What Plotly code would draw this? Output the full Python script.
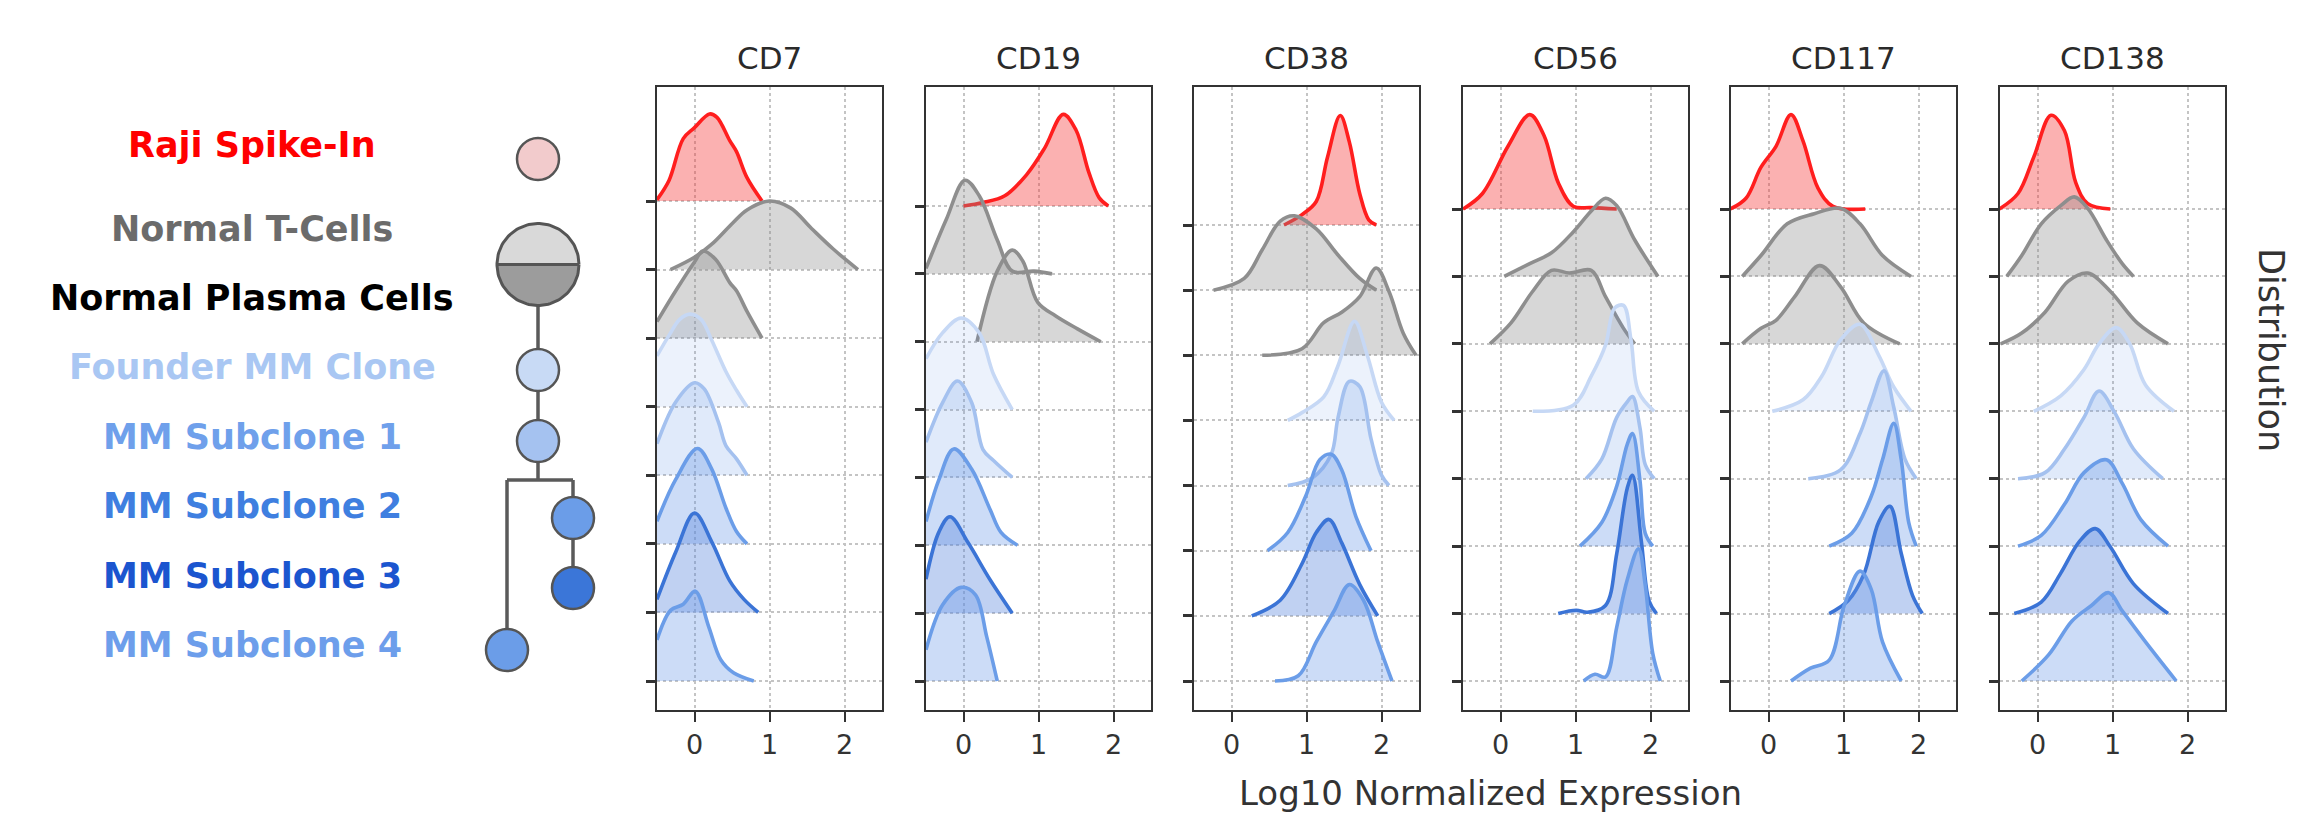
import numpy as np
import plotly.graph_objects as go

# ---------------- data ----------------
groups = ["Raji Spike-In", "Normal T-Cells", "Normal Plasma Cells", "Founder MM Clone",
          "MM Subclone 1", "MM Subclone 2", "MM Subclone 3", "MM Subclone 4"]
markers = ["CD7", "CD19", "CD38", "CD56", "CD117", "CD138"]
x_tick_vals = [0, 1, 2]
x_tick_text = ["0", "1", "2"]
x_label = "Log10 Normalized Expression"
y_label = "Distribution"

# density curves: (log10 expression, density height in row units)
cd7 = {
    "Raji Spike-In": ([-0.5, -0.34, -0.15, 0.0, 0.2, 0.3, 0.47, 0.56, 0.7, 0.9],
                      [0.02, 0.3, 0.91, 1.07, 1.27, 1.22, 0.88, 0.72, 0.34, 0.0]),
    "Normal T-Cells": ([-0.32, 0.0, 0.23, 0.51, 0.7, 1.0, 1.28, 1.56, 1.85, 2.18],
                       [0.0, 0.18, 0.37, 0.68, 0.87, 1.0, 0.9, 0.6, 0.3, 0.0]),
    "Normal Plasma Cells": ([-0.5, -0.25, 0.0, 0.11, 0.28, 0.47, 0.56, 0.7, 0.9],
                            [0.24, 0.69, 1.11, 1.27, 1.15, 0.81, 0.69, 0.39, 0.0]),
    "Founder MM Clone": ([-0.5, -0.34, -0.2, -0.06, 0.09, 0.23, 0.42, 0.56, 0.7],
                         [0.74, 1.04, 1.27, 1.35, 1.27, 0.97, 0.51, 0.24, 0.0]),
    "MM Subclone 1": ([-0.5, -0.25, 0.0, 0.13, 0.32, 0.42, 0.56, 0.7],
                      [0.46, 1.07, 1.35, 1.26, 0.77, 0.43, 0.24, 0.0]),
    "MM Subclone 2": ([-0.5, -0.25, 0.04, 0.23, 0.42, 0.56, 0.7],
                      [0.33, 0.94, 1.39, 1.09, 0.52, 0.18, 0.0]),
    "MM Subclone 3": ([-0.5, -0.25, 0.0, 0.23, 0.47, 0.66, 0.85],
                      [0.19, 0.88, 1.45, 1.03, 0.46, 0.19, 0.0]),
    "MM Subclone 4": ([-0.5, -0.32, -0.15, 0.01, 0.19, 0.35, 0.52, 0.79],
                      [0.6, 1.03, 1.12, 1.31, 0.79, 0.31, 0.12, 0.0]),
}
cd19 = {
    "Raji Spike-In": ([0.0, 0.26, 0.55, 0.84, 1.08, 1.33, 1.5, 1.67, 1.81, 1.93],
                      [0.0, 0.05, 0.15, 0.46, 0.85, 1.35, 1.12, 0.5, 0.12, 0.0]),
    "Normal T-Cells": ([-0.5, -0.23, 0.02, 0.21, 0.45, 0.65, 0.94, 1.18],
                       [0.08, 0.8, 1.38, 1.15, 0.5, 0.04, 0.04, 0.0]),
    "Normal Plasma Cells": ([0.18, 0.45, 0.65, 0.79, 0.99, 1.23, 1.52, 1.83],
                            [0.0, 1.04, 1.35, 1.19, 0.58, 0.38, 0.19, 0.0]),
    "Founder MM Clone": ([-0.5, -0.28, -0.03, 0.21, 0.4, 0.65],
                         [0.75, 1.13, 1.35, 1.13, 0.52, 0.0]),
    "MM Subclone 1": ([-0.5, -0.28, -0.08, 0.11, 0.26, 0.4, 0.65],
                      [0.52, 1.1, 1.42, 1.1, 0.41, 0.25, 0.0]),
    "MM Subclone 2": ([-0.5, -0.33, -0.13, 0.11, 0.35, 0.5, 0.72],
                      [0.35, 0.96, 1.42, 1.12, 0.54, 0.19, 0.0]),
    "MM Subclone 3": ([-0.5, -0.33, -0.18, 0.06, 0.35, 0.65],
                      [0.5, 1.19, 1.42, 1.04, 0.5, 0.0]),
    "MM Subclone 4": ([-0.5, -0.28, -0.03, 0.16, 0.31, 0.45],
                      [0.46, 1.12, 1.38, 1.27, 0.65, 0.0]),
}
cd38 = {
    "Raji Spike-In": ([0.7, 0.94, 1.13, 1.28, 1.45, 1.57, 1.71, 1.83, 1.93],
                      [0.0, 0.16, 0.36, 1.04, 1.68, 1.28, 0.48, 0.08, 0.0]),
    "Normal T-Cells": ([-0.24, 0.17, 0.41, 0.65, 0.84, 1.13, 1.42, 1.71, 1.93],
                       [0.0, 0.18, 0.62, 1.06, 1.14, 0.94, 0.54, 0.18, 0.0]),
    "Normal Plasma Cells": ([0.41, 0.94, 1.23, 1.47, 1.71, 1.93, 2.1, 2.29, 2.46],
                            [0.0, 0.1, 0.5, 0.66, 0.9, 1.34, 0.98, 0.34, 0.0]),
    "Founder MM Clone": ([0.75, 0.94, 1.23, 1.42, 1.64, 1.81, 2.0, 2.17],
                         [0.0, 0.12, 0.36, 0.84, 1.52, 1.0, 0.28, 0.0]),
    "MM Subclone 1": ([0.75, 1.08, 1.33, 1.42, 1.57, 1.71, 1.86, 2.0, 2.1],
                      [0.0, 0.12, 0.48, 1.04, 1.6, 1.52, 0.72, 0.16, 0.0]),
    "MM Subclone 2": ([0.48, 0.75, 0.99, 1.18, 1.33, 1.47, 1.66, 1.86],
                      [0.0, 0.28, 0.84, 1.4, 1.48, 1.24, 0.52, 0.0]),
    "MM Subclone 3": ([0.27, 0.65, 0.94, 1.13, 1.3, 1.47, 1.71, 1.95],
                      [0.0, 0.24, 0.8, 1.28, 1.48, 1.12, 0.48, 0.0]),
    "MM Subclone 4": ([0.58, 0.89, 1.13, 1.37, 1.57, 1.76, 1.95, 2.14],
                      [0.0, 0.08, 0.6, 1.08, 1.48, 1.24, 0.6, 0.0]),
}
cd56 = {
    "Raji Spike-In": ([-0.5, -0.24, 0.1, 0.39, 0.58, 0.77, 0.97, 1.21, 1.55],
                      [0.0, 0.23, 0.93, 1.4, 1.09, 0.39, 0.04, 0.02, 0.0]),
    "Normal T-Cells": ([0.05, 0.39, 0.68, 0.97, 1.21, 1.4, 1.55, 1.79, 2.1],
                       [0.0, 0.19, 0.35, 0.66, 0.97, 1.16, 1.05, 0.54, 0.0]),
    "Normal Plasma Cells": ([-0.14, 0.14, 0.43, 0.68, 0.92, 1.21, 1.4, 1.64, 1.79],
                            [0.0, 0.31, 0.78, 1.09, 1.05, 1.09, 0.7, 0.23, 0.0]),
    "Founder MM Clone": ([0.43, 0.97, 1.21, 1.4, 1.52, 1.64, 1.74, 1.84, 2.05],
                         [0.0, 0.09, 0.52, 0.98, 1.53, 1.57, 1.06, 0.29, 0.0]),
    "MM Subclone 1": ([1.14, 1.35, 1.55, 1.69, 1.76, 1.86, 1.93, 2.05],
                      [0.0, 0.29, 0.91, 1.14, 1.22, 0.75, 0.21, 0.0]),
    "MM Subclone 2": ([1.06, 1.35, 1.55, 1.69, 1.76, 1.86, 1.93, 2.03],
                      [0.0, 0.35, 0.89, 1.51, 1.67, 0.97, 0.19, 0.0]),
    "MM Subclone 3": ([0.77, 1.01, 1.16, 1.4, 1.55, 1.69, 1.76, 1.88, 1.98, 2.08],
                      [0.0, 0.05, 0.02, 0.12, 0.89, 1.86, 2.05, 1.05, 0.19, 0.0]),
    "MM Subclone 4": ([1.11, 1.26, 1.4, 1.55, 1.69, 1.84, 1.93, 2.03, 2.13],
                      [0.0, 0.1, 0.06, 0.8, 1.5, 1.96, 1.42, 0.41, 0.0]),
}
cd117 = {
    "Raji Spike-In": ([-0.51, -0.3, -0.1, 0.1, 0.3, 0.46, 0.66, 0.86, 1.29],
                      [0.0, 0.16, 0.62, 0.93, 1.4, 1.01, 0.31, 0.04, 0.0]),
    "Normal T-Cells": ([-0.35, -0.1, 0.25, 0.61, 0.96, 1.22, 1.52, 1.9],
                       [0.0, 0.31, 0.78, 0.93, 1.01, 0.78, 0.31, 0.0]),
    "Normal Plasma Cells": ([-0.35, -0.1, 0.1, 0.35, 0.68, 0.96, 1.27, 1.75],
                            [0.0, 0.23, 0.35, 0.7, 1.16, 0.85, 0.31, 0.0]),
    "Founder MM Clone": ([0.05, 0.46, 0.71, 0.96, 1.22, 1.47, 1.67, 1.9],
                         [0.0, 0.17, 0.52, 1.06, 1.29, 0.83, 0.36, 0.0]),
    "MM Subclone 1": ([0.53, 0.96, 1.22, 1.37, 1.54, 1.67, 1.82, 1.97],
                      [0.0, 0.13, 0.67, 1.14, 1.6, 1.06, 0.29, 0.0]),
    "MM Subclone 2": ([0.81, 1.11, 1.37, 1.52, 1.67, 1.77, 1.87, 1.97],
                      [0.0, 0.19, 0.74, 1.28, 1.82, 1.28, 0.35, 0.0]),
    "MM Subclone 3": ([0.81, 1.06, 1.27, 1.47, 1.62, 1.77, 1.92, 2.05],
                      [0.0, 0.19, 0.58, 1.36, 1.59, 0.89, 0.27, 0.0]),
    "MM Subclone 4": ([0.3, 0.56, 0.81, 1.01, 1.22, 1.37, 1.52, 1.77],
                      [0.0, 0.19, 0.31, 1.12, 1.63, 1.36, 0.58, 0.0]),
}
cd138 = {
    "Raji Spike-In": ([-0.51, -0.26, -0.05, 0.18, 0.36, 0.51, 0.67, 0.97],
                      [0.0, 0.23, 0.77, 1.39, 1.16, 0.39, 0.08, 0.0]),
    "Normal T-Cells": ([-0.41, -0.21, 0.05, 0.31, 0.49, 0.67, 0.92, 1.13, 1.28],
                       [0.0, 0.31, 0.78, 1.05, 1.18, 1.01, 0.54, 0.19, 0.0]),
    "Normal Plasma Cells": ([-0.49, -0.21, 0.1, 0.41, 0.67, 0.97, 1.33, 1.74],
                            [0.0, 0.16, 0.47, 0.93, 1.05, 0.78, 0.31, 0.0]),
    "Founder MM Clone": ([-0.05, 0.31, 0.62, 0.82, 1.05, 1.23, 1.44, 1.82],
                         [0.0, 0.23, 0.62, 1.0, 1.24, 1.0, 0.39, 0.0]),
    "MM Subclone 1": ([-0.26, 0.1, 0.36, 0.62, 0.82, 1.03, 1.28, 1.67],
                      [0.0, 0.09, 0.44, 0.91, 1.3, 0.98, 0.44, 0.0]),
    "MM Subclone 2": ([-0.26, 0.05, 0.36, 0.62, 0.92, 1.13, 1.38, 1.74],
                      [0.0, 0.16, 0.62, 1.09, 1.28, 0.93, 0.39, 0.0]),
    "MM Subclone 3": ([-0.31, 0.05, 0.31, 0.56, 0.77, 0.97, 1.28, 1.74],
                      [0.0, 0.17, 0.6, 1.07, 1.26, 0.99, 0.44, 0.0]),
    "MM Subclone 4": ([-0.21, 0.15, 0.46, 0.72, 0.95, 1.13, 1.44, 1.85],
                      [0.0, 0.39, 0.89, 1.12, 1.31, 1.04, 0.58, 0.0]),
}
panel_data = [cd7, cd19, cd38, cd56, cd117, cd138]

# ---------------- styles / layout geometry (page pixels) ----------------
OFF = 8                       # default page body margin
W, H = 2314 - OFF, 819 - OFF  # figure size so that it ends at the window edge


def px(xp):
    return (xp - OFF) / W


def py(yp):
    return 1 - (yp - OFF) / H


line_colors = ["#ff1e1e", "#8e8e8e", "#8e8e8e", "#c6d8f5", "#a4c1ef", "#6b9de8", "#3b74d6", "#6b9de8"]
fill_colors = ["rgba(245,60,60,0.40)", "rgba(140,140,140,0.35)", "rgba(140,140,140,0.35)",
               "rgba(100,150,230,0.12)", "rgba(100,150,230,0.20)", "rgba(100,150,230,0.33)",
               "rgba(90,135,220,0.38)", "rgba(100,150,230,0.33)"]
label_colors = ["#ff0000", "#6b6b6b", "#000000", "#a9c7f3", "#6fa0eb", "#3f7fe0", "#1b55cf", "#6d9eeb"]

panel_left_px = [657, 926, 1194, 1463, 1731, 2000]
panel_w_px = 225
panel_top_px, panel_bot_px = 87, 710
top_base_px = [201, 206, 225, 209, 209, 209]
bot_base_px = 681
xrange_ = [-0.5, 2.5]

fig = go.Figure()
layout = dict(width=W, height=H, margin=dict(l=0, r=0, t=0, b=0),
              paper_bgcolor="white", plot_bgcolor="white", showlegend=False)
annotations = []
n = len(groups)

for k, (mk, dat) in enumerate(zip(markers, panel_data)):
    ax = "" if k == 0 else str(k + 1)
    xa, ya = "x" + ax, "y" + ax
    for i, g in enumerate(groups):
        base = n - 1 - i
        xs, hs = dat[g]
        ys = [base + h for h in hs]
        fig.add_trace(go.Scatter(x=[xs[0], xs[-1]], y=[base, base], mode="lines",
                                 line=dict(width=0, color="rgba(0,0,0,0)"),
                                 xaxis=xa, yaxis=ya, hoverinfo="skip"))
        fig.add_trace(go.Scatter(x=xs, y=ys, mode="lines", fill="tonexty",
                                 fillcolor=fill_colors[i],
                                 line=dict(color=line_colors[i], width=3.6, shape="spline", smoothing=1.0),
                                 xaxis=xa, yaxis=ya, name=g))
    s = (bot_base_px - top_base_px[k]) / (n - 1)
    yr = [-(panel_bot_px - bot_base_px) / s, (bot_base_px - panel_top_px) / s]
    layout["xaxis" + ax] = dict(domain=[px(panel_left_px[k]), px(panel_left_px[k] + panel_w_px)],
                                range=xrange_, anchor=ya,
                                tickvals=x_tick_vals, ticktext=x_tick_text,
                                ticks="outside", ticklen=10, tickwidth=2, tickcolor="#333",
                                tickfont=dict(family="DejaVu Sans", size=27, color="#333"),
                                showgrid=True, gridcolor="#c4c4c4", griddash="dot", gridwidth=1.5,
                                showline=True, mirror=True, linecolor="#333", linewidth=2,
                                zeroline=False, fixedrange=True)
    layout["yaxis" + ax] = dict(domain=[py(panel_bot_px), py(panel_top_px)], range=yr,
                                anchor=xa, tickvals=list(range(n)), showticklabels=False,
                                ticks="outside", ticklen=9, tickwidth=2.5, tickcolor="#333",
                                showgrid=True, gridcolor="#c4c4c4", griddash="dot", gridwidth=1.5,
                                showline=True, mirror=True, linecolor="#333", linewidth=2,
                                zeroline=False, fixedrange=True)
    annotations.append(dict(text=mk, x=px(panel_left_px[k] + panel_w_px / 2), y=py(58),
                            xref="paper", yref="paper", showarrow=False,
                            xanchor="center", yanchor="middle",
                            font=dict(family="DejaVu Sans", size=31, color="#2a2a2a")))

# ---------------- left labels ----------------
label_y_px = [145, 229, 298, 367, 437, 506, 576, 645]
for i, g in enumerate(groups):
    annotations.append(dict(text="<b>" + g + "</b>", x=px(252), y=py(label_y_px[i]),
                            xref="paper", yref="paper", showarrow=False,
                            xanchor="center", yanchor="middle",
                            font=dict(family="DejaVu Sans", size=35, color=label_colors[i])))

annotations.append(dict(text=x_label, x=px(1490), y=py(793), xref="paper", yref="paper",
                        showarrow=False, xanchor="center", yanchor="middle",
                        font=dict(family="DejaVu Sans", size=34, color="#333")))
annotations.append(dict(text=y_label, x=px(2271), y=py(350), xref="paper", yref="paper",
                        showarrow=False, xanchor="center", yanchor="middle", textangle=90,
                        font=dict(family="DejaVu Sans", size=35, color="#333")))

# ---------------- clone tree (page-pixel helper axis) ----------------
tree_edges = [((538, 264), (538, 441)), ((538, 441), (538, 480)), ((507, 480), (573, 480)),
              ((573, 480), (573, 588)), ((507, 480), (507, 650))]
edge_color = "#5a5a5a"
for (a, b) in tree_edges:
    fig.add_trace(go.Scatter(x=[a[0], b[0]], y=[a[1], b[1]], mode="lines",
                             line=dict(color=edge_color, width=3.5), xaxis="x7", yaxis="y7",
                             hoverinfo="skip"))
cx, cy, r = 538, 264.5, 41
th_top = np.linspace(np.pi, 2 * np.pi, 60)
th_bot = np.linspace(0, np.pi, 60)
fig.add_trace(go.Scatter(x=cx + r * np.cos(th_top), y=cy + r * np.sin(th_top), fill="toself",
                         fillcolor="#d9d9d9", mode="lines", line=dict(width=0),
                         xaxis="x7", yaxis="y7", hoverinfo="skip"))
fig.add_trace(go.Scatter(x=cx + r * np.cos(th_bot), y=cy + r * np.sin(th_bot), fill="toself",
                         fillcolor="#9c9c9c", mode="lines", line=dict(width=0),
                         xaxis="x7", yaxis="y7", hoverinfo="skip"))
th = np.linspace(0, 2 * np.pi, 120)
fig.add_trace(go.Scatter(x=cx + r * np.cos(th), y=cy + r * np.sin(th), mode="lines",
                         line=dict(color="#555", width=3), xaxis="x7", yaxis="y7", hoverinfo="skip"))
fig.add_trace(go.Scatter(x=[cx - r, cx + r], y=[cy, cy], mode="lines",
                         line=dict(color="#555", width=3), xaxis="x7", yaxis="y7", hoverinfo="skip"))
node_x = [538, 538, 538, 573, 573, 507]
node_y = [159, 370, 441, 518, 588, 650]
node_c = ["#f2cbcc", "#c8daf5", "#a5c2f0", "#6b9de8", "#3b76d8", "#6b9de8"]
fig.add_trace(go.Scatter(x=node_x, y=node_y, mode="markers",
                         marker=dict(size=42, color=node_c, line=dict(color="#555", width=2.5)),
                         xaxis="x7", yaxis="y7", hoverinfo="skip"))
layout["xaxis7"] = dict(domain=[0, px(640)], range=[OFF, 640], visible=False,
                        fixedrange=True, anchor="y7")
layout["yaxis7"] = dict(domain=[0, 1], range=[819, OFF], visible=False,
                        fixedrange=True, anchor="x7")

layout["annotations"] = annotations
fig.update_layout(**layout)
fig.write_html("out.html")
